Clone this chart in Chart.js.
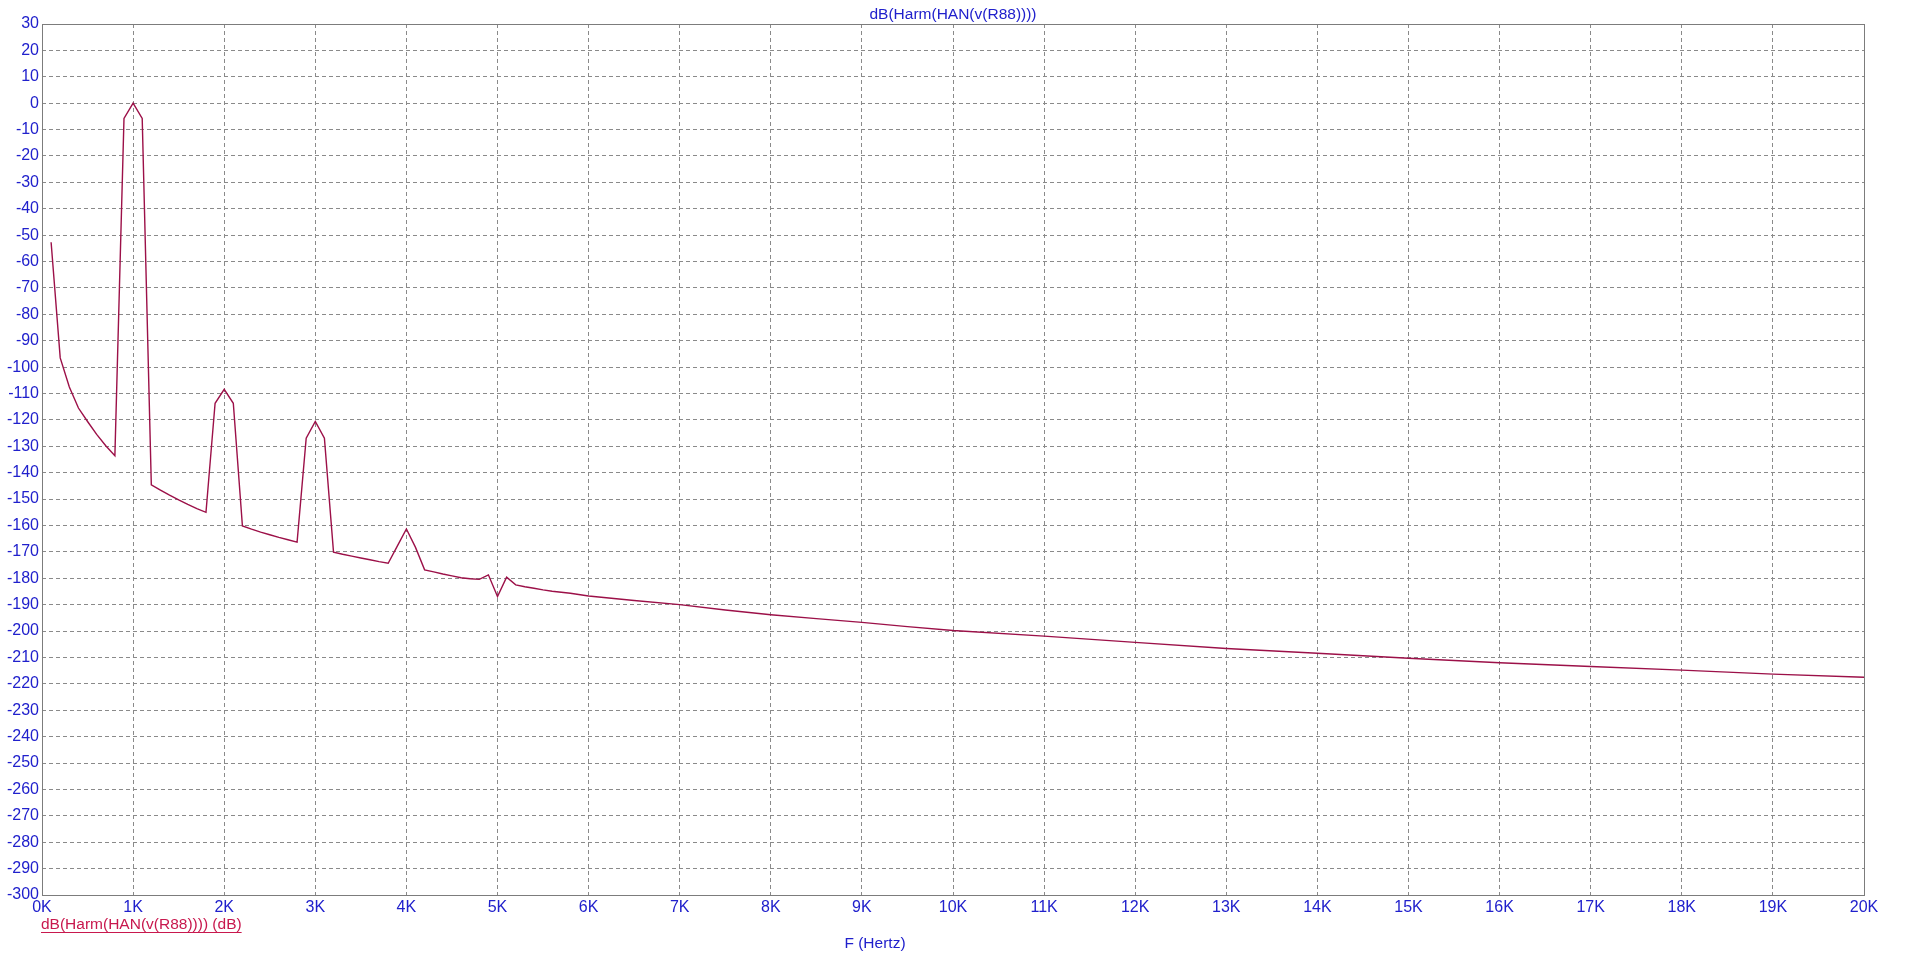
<!DOCTYPE html>
<html>
<head>
<meta charset="utf-8">
<script src="https://cdn.jsdelivr.net/npm/chart.js@4.4.1/dist/chart.umd.min.js"></script>
<style>
  html, body { margin: 0; padding: 0; background: #fff; }
  #wrap { width: 1907px; height: 969px; }
</style>
</head>
<body>
<div id="wrap"><canvas id="myChart" width="1907" height="969"></canvas></div>
<script>
// frequency in kHz, magnitude in dB
const freqKHz = [
  0.1, 0.2, 0.3, 0.4, 0.5, 0.6, 0.7, 0.8, 0.9, 1.0, 1.1, 1.2,
  1.3, 1.4, 1.5, 1.6, 1.7, 1.8, 1.9, 2.0, 2.1, 2.2,
  2.3, 2.4, 2.5, 2.6, 2.7, 2.8, 2.9, 3.0, 3.1, 3.2,
  3.3, 3.4, 3.5, 3.6, 3.7, 3.8, 3.9, 4.0, 4.1, 4.2,
  4.3, 4.4, 4.5, 4.6, 4.7, 4.8, 4.9, 5.0, 5.1, 5.2,
  5.3, 5.4, 5.5, 5.6, 5.8, 6.0, 6.5, 7.0, 7.5, 8.0, 8.5, 9.0, 9.5,
  10, 11, 12, 13, 14, 15, 16, 17, 18, 19, 20
];
const magDb = [
  -52.7, -96.5, -107.5, -115.5, -120.6, -125.5, -129.8, -133.6, -5.8, 0, -5.8, -144.6,
  -146.6, -148.5, -150.3, -152.0, -153.6, -155.0, -113.7, -108.4, -113.7, -160.2,
  -161.4, -162.5, -163.5, -164.5, -165.4, -166.3, -126.9, -120.6, -126.9, -170.1,
  -170.9, -171.6, -172.3, -173.0, -173.7, -174.3, -167.8, -161.3, -168.3, -176.8,
  -177.6, -178.4, -179.1, -179.8, -180.2, -180.4, -178.7, -186.9, -179.6, -182.5,
  -183.2, -183.8, -184.4, -184.9, -185.7, -186.7, -188.4, -190.0, -192.0, -193.8, -195.3, -196.7, -198.3,
  -199.8, -201.9, -204.3, -206.6, -208.4, -210.3, -212.0, -213.4, -214.8, -216.3, -217.5
];

const traceName = "dB(Harm(HAN(v(R88))))";
const legendText = "dB(Harm(HAN(v(R88)))) (dB)";
const xTitle = "F (Hertz)";

const blue = "#2020cc";
const traceColor = "#9c1048";
const gridColor = "#8a8a8a";

// texts and the solid frame round the plot
const extras = {
  id: "extras",
  afterDraw(chart) {
    const { ctx, chartArea: a } = chart;
    ctx.save();
    ctx.strokeStyle = "#7c7c7c";
    ctx.lineWidth = 1;
    ctx.strokeRect(a.left + 0.5, a.top + 0.5, a.right - a.left, a.bottom - a.top);

    ctx.font = "15.5px 'Liberation Sans', Arial, sans-serif";
    ctx.textBaseline = "middle";
    ctx.fillStyle = blue;
    ctx.textAlign = "center";
    ctx.fillText(traceName, (a.left + a.right) / 2, 15);
    ctx.fillText(xTitle, 875, 944);

    ctx.textAlign = "left";
    ctx.fillStyle = "#c8184e";
    ctx.fillText(legendText, 41, 925);
    const w = ctx.measureText(legendText).width;
    ctx.strokeStyle = "#c8184e";
    ctx.beginPath();
    ctx.moveTo(41, 932.5);
    ctx.lineTo(41 + w, 932.5);
    ctx.stroke();
    ctx.restore();
  }
};

const ctx = document.getElementById("myChart").getContext("2d");
new Chart(ctx, {
  type: "line",
  data: {
    datasets: [
      {
        label: traceName,
        data: freqKHz.map((f, i) => ({ x: f * 1000, y: magDb[i] })),
        borderColor: traceColor,
        borderWidth: 1.4,
        pointRadius: 0,
        tension: 0,
        fill: false
      }
    ]
  },
  options: {
    responsive: false,
    animation: false,
    layout: { padding: { top: 24, right: 43, left: 0, bottom: 0 } },
    plugins: {
      legend: { display: false },
      title: { display: false },
      tooltip: { enabled: false }
    },
    scales: {
      x: {
        type: "linear",
        min: 0,
        max: 20000,
        afterFit: (s) => { s.height = 74; },
        ticks: {
          stepSize: 1000,
          color: blue,
          padding: 3,
          maxRotation: 0,
          autoSkip: false,
          font: { family: "'Liberation Sans', Arial, sans-serif", size: 16 },
          callback: (v) => v / 1000 + "K"
        },
        grid: { color: gridColor, lineWidth: 1, drawTicks: false },
        border: { display: false, dash: [4, 3] }
      },
      y: {
        min: -300,
        max: 30,
        afterFit: (s) => { s.width = 42; },
        ticks: {
          stepSize: 10,
          color: blue,
          padding: 3,
          autoSkip: false,
          font: { family: "'Liberation Sans', Arial, sans-serif", size: 16 }
        },
        grid: { color: gridColor, lineWidth: 1, drawTicks: false },
        border: { display: false, dash: [4, 3] }
      }
    }
  },
  plugins: [extras]
});
</script>
</body>
</html>
